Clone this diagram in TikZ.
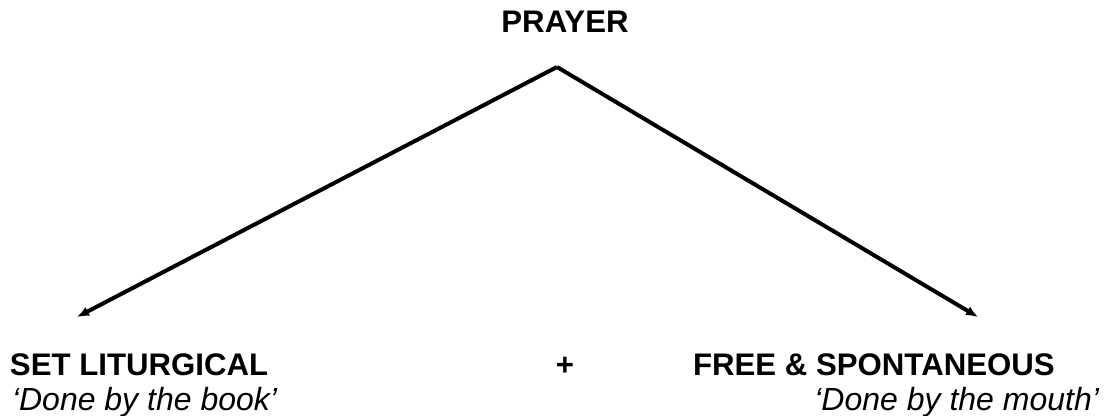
\documentclass[tikz,border=0pt]{standalone}
\usepackage{fontspec}
\setmainfont{Liberation Sans}
\usetikzlibrary{positioning,arrows.meta}
\begin{document}
\begin{tikzpicture}[
      x=0.5pt, y=-0.5pt,
      every node/.style={inner sep=0pt, outer sep=0pt},
      head/.style={font=\fontsize{15.6}{18}\selectfont\bfseries},
      motto/.style={font=\fontsize{16}{18}\selectfont\itshape},
      arrow/.style={-{Latex[length=6pt, width=5pt]}, line width=2pt},
  ]
    \useasboundingbox (0,0) rectangle (1105,416);

    %% --- title and the two kinds of prayer ---
    \node[head, anchor=base] (prayer) at (565, 33) {PRAYER};
    \node[head, anchor=base west] (set) at (10, 376) {SET LITURGICAL};
    \node[motto, anchor=base west] (book) at (12, 411) {‘Done by the book’};
    \node[head, anchor=base west] (free) at (693, 376) {FREE \& SPONTANEOUS};
    \node[motto, anchor=base east] (mouth) at (1099, 411) {‘Done by the mouth’};
    \node[head, anchor=base] (plus) at (565, 376) {+};

    %% --- arrows from the apex ---
    \coordinate (apex) at (557, 67);
    \coordinate (settip) at (77, 317);
    \coordinate (freetip) at (978, 317);
    \draw[arrow] (apex) -- (settip);
    \draw[arrow] (apex) -- (freetip);
\end{tikzpicture}
\end{document}
